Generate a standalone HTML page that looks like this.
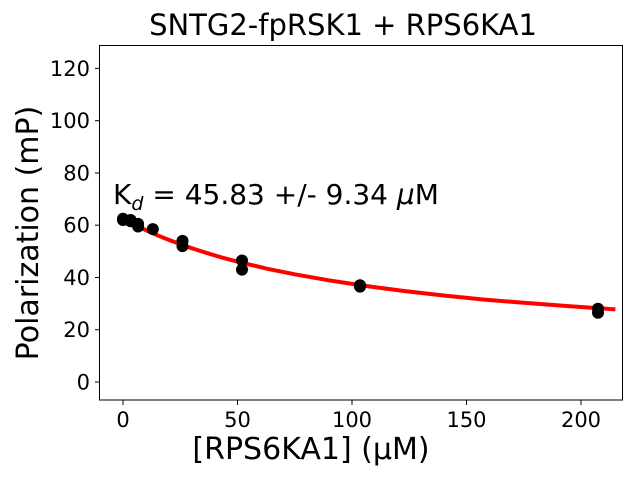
<!DOCTYPE html>
<html><head><meta charset="utf-8"><style>body{margin:0;background:#fff}svg{display:block}text{font-family:"DejaVu Sans","Liberation Sans",sans-serif;fill:#000}</style></head>
<body>
<svg width="640" height="480" viewBox="0 0 640 480" xmlns="http://www.w3.org/2000/svg">
<rect width="640" height="480" fill="#fff"/>
<text x="343" y="35" font-size="29" text-anchor="middle">SNTG2-fpRSK1 + RPS6KA1</text>
<polyline points="123,218.7 134.5,224.6 145.9,230.2 157.4,235.3 168.8,239.9 186,246.3 203.2,251.9 222,257.6 242.1,262.8 268,268.9 294.8,274.3 328,280.2 363.5,285.6 403,290.9 443.6,295.5 483,299.5 523.8,302.8 570,306.3 615.4,309.4" fill="none" stroke="#f00" stroke-width="4" stroke-linejoin="round"/>
<g fill="#000">
<circle cx="123" cy="218.7" r="6"/><circle cx="123" cy="220" r="6"/>
<circle cx="130.6" cy="220" r="6"/><circle cx="130.6" cy="221.3" r="6"/>
<circle cx="138.1" cy="223.9" r="6"/><circle cx="138.1" cy="226.5" r="6"/>
<circle cx="152.8" cy="229.1" r="6"/>
<circle cx="182.5" cy="240.9" r="6"/><circle cx="182.5" cy="246.1" r="6"/>
<circle cx="242" cy="260.5" r="6"/><circle cx="242" cy="269.6" r="6"/>
<circle cx="360" cy="285.3" r="6"/><circle cx="360" cy="286.6" r="6"/>
<circle cx="598" cy="308.8" r="6"/><circle cx="598" cy="312.8" r="6"/>
</g>
<rect x="99.5" y="45.5" width="523" height="354.5" fill="none" stroke="#000" stroke-width="1"/>
<g stroke="#000">
<line x1="123" y1="400" x2="123" y2="405"/><line x1="237.5" y1="400" x2="237.5" y2="405"/><line x1="352" y1="400" x2="352" y2="405"/><line x1="466.5" y1="400" x2="466.5" y2="405"/><line x1="581" y1="400" x2="581" y2="405"/>
<line x1="95" y1="382" x2="99.5" y2="382"/><line x1="95" y1="329.7" x2="99.5" y2="329.7"/><line x1="95" y1="277.5" x2="99.5" y2="277.5"/><line x1="95" y1="225.2" x2="99.5" y2="225.2"/><line x1="95" y1="173" x2="99.5" y2="173"/><line x1="95" y1="120.7" x2="99.5" y2="120.7"/><line x1="95" y1="68.4" x2="99.5" y2="68.4"/>
</g>
<g font-size="21" text-anchor="middle">
<text x="123" y="427">0</text><text x="237.5" y="427">50</text><text x="352" y="427">100</text><text x="466.5" y="427">150</text><text x="581" y="427">200</text>
</g>
<g font-size="21" text-anchor="end">
<text x="90" y="389.5">0</text><text x="90" y="337">20</text><text x="90" y="285">40</text><text x="90" y="232.5">60</text><text x="90" y="180.5">80</text><text x="90" y="128">100</text><text x="90" y="76">120</text>
</g>
<text x="311" y="459" font-size="30" text-anchor="middle">[RPS6KA1] (μM)</text>
<text transform="translate(38,233) rotate(-90)" font-size="30" text-anchor="middle">Polarization (mP)</text>
<text x="113" y="204" font-size="28">K<tspan font-size="19" font-style="italic" dy="6">d</tspan><tspan dy="-6"> = 45.83 +/- 9.34 </tspan><tspan font-style="italic">μ</tspan>M</text>
</svg>
</body></html>
